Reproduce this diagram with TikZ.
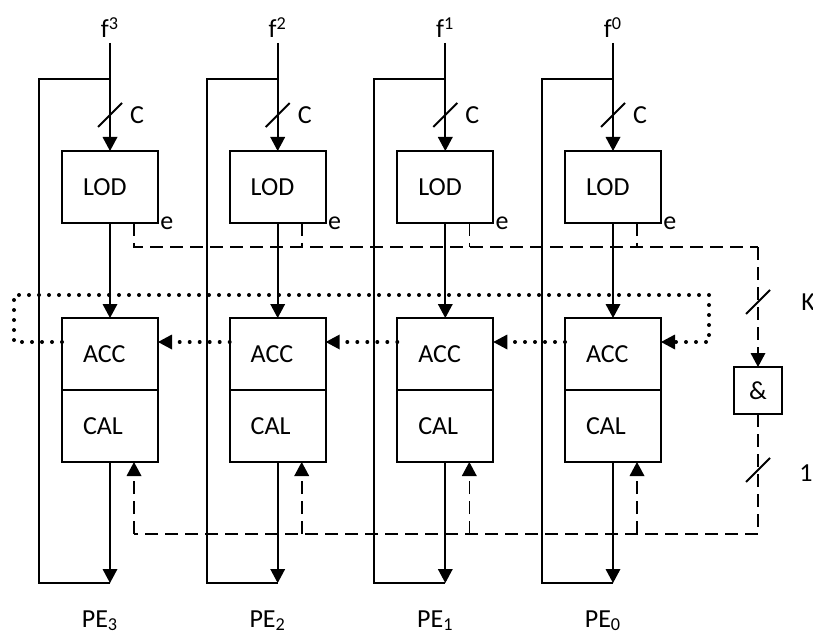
\documentclass[tikz,border=0pt]{standalone}
\usepackage{fontspec}
\setmainfont{Carlito}
\usepackage{tikz}
\usetikzlibrary{arrows.meta,positioning}

\begin{document}
\begin{tikzpicture}[
  x=0.5pt, y=-0.5pt,
  font=\fontsize{13}{15}\selectfont,
  box/.style={draw, line width=1pt, outer sep=0pt, minimum width=48pt, minimum height=36pt,
    text width=27pt, inner xsep=10.5pt, align=left},
  gate/.style={draw, line width=1pt, outer sep=0pt, minimum width=24pt, minimum height=23.5pt, inner sep=0pt},
  lbl/.style={inner sep=0pt},
  wire/.style={line width=1pt},
  tip/.style={-{Triangle[length=7pt,width=7.5pt,line width=0pt]}},
  flow/.style={wire, tip},
  ctrl/.style={line width=0.8pt, dash pattern=on 6.5pt off 3.5pt},
  ring/.style={line width=2pt, line cap=round, dash pattern=on 0pt off 5pt}
]
\useasboundingbox (0,0) rectangle (813,636);
\node[box] (lod3) at (110,187) {LOD};
\node[box] (lod2) at (277.7,187) {LOD};
\node[box] (lod1) at (445.3,187) {LOD};
\node[box] (lod0) at (613,187) {LOD};
\node[box] (acc3) at (110,354) {ACC};
\node[box] (acc2) at (277.7,354) {ACC};
\node[box] (acc1) at (445.3,354) {ACC};
\node[box] (acc0) at (613,354) {ACC};
\node[box, below=0pt of acc3] (cal3) {CAL};
\node[box, below=0pt of acc2] (cal2) {CAL};
\node[box, below=0pt of acc1] (cal1) {CAL};
\node[box, below=0pt of acc0] (cal0) {CAL};
\node[gate] (and) at (758,390.5) {\&};
\node[lbl, anchor=base] (f3) at (110,38) {f\textsuperscript{3}};
\node[lbl, anchor=base] (f2) at (277.7,38) {f\textsuperscript{2}};
\node[lbl, anchor=base] (f1) at (445.3,38) {f\textsuperscript{1}};
\node[lbl, anchor=base] (f0) at (613,38) {f\textsuperscript{0}};
\node[lbl, anchor=base] (pe3) at (100,627) {PE\textsubscript{3}};
\node[lbl, anchor=base] (pe2) at (267.7,627) {PE\textsubscript{2}};
\node[lbl, anchor=base] (pe1) at (435.3,627) {PE\textsubscript{1}};
\node[lbl, anchor=base] (pe0) at (603,627) {PE\textsubscript{0}};
\node[lbl] (c3) at (137,115) {C};
\node[lbl] (c2) at (304.7,115) {C};
\node[lbl] (c1) at (472.3,115) {C};
\node[lbl] (c0) at (640,115) {C};
\node[lbl, anchor=west, xshift=1pt] (e3) at (lod3.south east) {e};
\node[lbl, anchor=west, xshift=1pt] (e2) at (lod2.south east) {e};
\node[lbl, anchor=west, xshift=1pt] (e1) at (lod1.south east) {e};
\node[lbl, anchor=west, xshift=1pt] (e0) at (lod0.south east) {e};
\node[lbl] (k) at (808,302) {K};
\node[lbl] (one) at (806,473) {1};
\coordinate (t3) at (110,43);
\coordinate (t2) at (277.7,43);
\coordinate (t1) at (445.3,43);
\coordinate (t0) at (613,43);
\coordinate (j3) at (110,79);
\coordinate (j2) at (277.7,79);
\coordinate (j1) at (445.3,79);
\coordinate (j0) at (613,79);
\coordinate (b3) at (110,583);
\coordinate (b2) at (277.7,583);
\coordinate (b1) at (445.3,583);
\coordinate (b0) at (613,583);
\coordinate (eb) at (758,247);
\coordinate (db) at (758,534);
\coordinate (dtl) at (14,295);
\coordinate (dtr) at (709,295);
\draw[flow] (t3) -- (lod3);
\draw[flow] (t2) -- (lod2);
\draw[flow] (t1) -- (lod1);
\draw[flow] (t0) -- (lod0);
\draw[wire] (j3) -- ++(-71,0) |- (b3);
\draw[wire] (j2) -- ++(-71,0) |- (b2);
\draw[wire] (j1) -- ++(-71,0) |- (b1);
\draw[wire] (j0) -- ++(-71,0) |- (b0);
\draw[wire] (98,127) -- ++(24,-24);
\draw[wire] (265.7,127) -- ++(24,-24);
\draw[wire] (433.3,127) -- ++(24,-24);
\draw[wire] (601,127) -- ++(24,-24);
\draw[flow] (lod3) -- (acc3);
\draw[flow] (lod2) -- (acc2);
\draw[flow] (lod1) -- (acc1);
\draw[flow] (lod0) -- (acc0);
\draw[flow] (cal3) -- (b3);
\draw[flow] (cal2) -- (b2);
\draw[flow] (cal1) -- (b1);
\draw[flow] (cal0) -- (b0);
\draw[ctrl] ([xshift=12pt]lod3.south) |- (eb);
\draw[ctrl] ([xshift=12pt]lod2.south) -- ([xshift=12pt]lod2.south |- eb);
\draw[ctrl] ([xshift=12pt]lod1.south) -- ([xshift=12pt]lod1.south |- eb);
\draw[ctrl] ([xshift=12pt]lod0.south) -- ([xshift=12pt]lod0.south |- eb);
\draw[ctrl, tip] (eb) -- (and);
\draw[ctrl] (and) -- (db) -- ([xshift=12pt]cal3.south |- db);
\draw[ctrl, tip] ([xshift=12pt]cal3.south |- db) -- ([xshift=12pt]cal3.south);
\draw[ctrl, tip] ([xshift=12pt]cal2.south |- db) -- ([xshift=12pt]cal2.south);
\draw[ctrl, tip] ([xshift=12pt]cal1.south |- db) -- ([xshift=12pt]cal1.south);
\draw[ctrl, tip] ([xshift=12pt]cal0.south |- db) -- ([xshift=12pt]cal0.south);
\draw[wire] (746,314) -- ++(24,-24);
\draw[wire] (746,482) -- ++(24,-24);
\draw[ring, tip] ([yshift=-12pt]acc3.north west) -| (dtl) -- (dtr) |- ([yshift=-12pt]acc0.north east);
\draw[ring, tip] ([yshift=-12pt]acc2.north west) -- ([yshift=-12pt]acc3.north east);
\draw[ring, tip] ([yshift=-12pt]acc1.north west) -- ([yshift=-12pt]acc2.north east);
\draw[ring, tip] ([yshift=-12pt]acc0.north west) -- ([yshift=-12pt]acc1.north east);
\end{tikzpicture}
\end{document}
